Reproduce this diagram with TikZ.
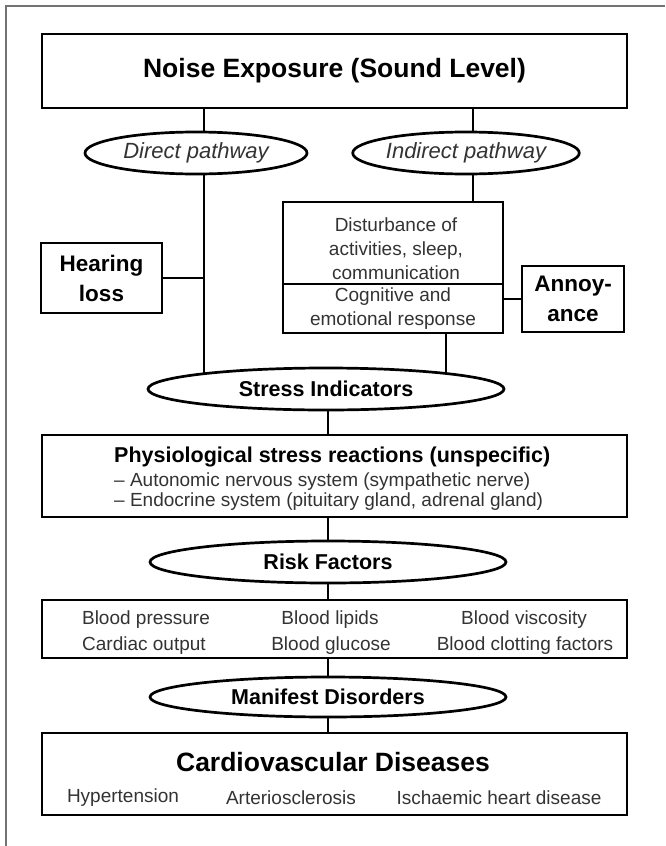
\documentclass[tikz,border=0pt]{standalone}
\usepackage{fontspec}
\setmainfont{Liberation Sans}
\usetikzlibrary{shapes.geometric, backgrounds, calc}
\tikzset{
    %Define style for boxes
    kasten/.style={
           rectangle,
           draw=black, line width=2.7pt,
           fill=white,
           inner sep=0pt},
    %Define style for ellipses
    oval/.style={
           ellipse,
           draw=black, line width=2.7pt,
           fill=white,
           inner sep=0pt,
           minimum height=42pt},
    % Define line style
    pil/.style={
           -,
           line width=2.7pt},
    % Define text styles
    titel/.style={font=\bfseries\fontsize{26.5}{30}\selectfont},
    fett/.style={font=\bfseries\fontsize{21.5}{26}\selectfont},
    seite/.style={font=\bfseries\fontsize{22.5}{30}\selectfont, align=center},
    kursiv/.style={font=\itshape\fontsize{22}{26}\selectfont, text=black!80},
    normal/.style={font=\fontsize{19}{24}\selectfont, text=black!80, inner sep=0pt},
}

\begin{document}
\begin{tikzpicture}[x=1pt, y=-1pt]
	\useasboundingbox (0,0) rectangle (665,846);
	% cadre
	\draw[black!55, line width=1.2pt] (6,846) -- (6,6) -- (665,6);
	%
	% noeuds
	%
	\node[kasten, titel, minimum width=585pt, minimum height=74pt] (noise) at (334.5,71) {Noise Exposure (Sound Level)};
	\node[oval, kursiv, minimum width=222pt] (direct) at (196,153) {Direct pathway};
	\node[oval, kursiv, minimum width=224pt] (indirect) at (466,153) {Indirect pathway};
	\node[kasten, minimum width=220pt, minimum height=82pt] (dist) at (393,243) {};
	\node[normal, align=center] (disttext) at (396,249) {Disturbance of\\activities, sleep,\\communication};
	\node[kasten, normal, align=center, minimum width=220pt, minimum height=49pt] (cog) at (393,308.5) {Cognitive and\\emotional response};
	\node[kasten, seite, minimum width=121pt, minimum height=70pt] (hearing) at (101.5,278) {Hearing\\loss};
	\node[kasten, seite, minimum width=102pt, minimum height=66pt] (annoy) at (573,299) {Annoy-\\ance};
	\node[oval, fett, minimum width=356pt] (stress) at (326,389) {Stress Indicators};
	\node[kasten, minimum width=585pt, minimum height=82pt] (phys) at (334.5,476) {};
	\node[fett, inner sep=0pt, anchor=west] (physhead) at (114,457) {Physiological stress reactions (unspecific)};
	\node[normal, anchor=west] (auto) at (114,482) {– Autonomic nervous system (sympathetic nerve)};
	\node[normal, anchor=west] (endo) at (114,502) {– Endocrine system (pituitary gland, adrenal gland)};
	\node[oval, fett, minimum width=356pt] (risk) at (328,562) {Risk Factors};
	\node[kasten, minimum width=585pt, minimum height=58pt] (blood) at (334.5,629) {};
	\node[normal] (bp) at (146,620) {Blood pressure};
	\node[normal] (cardiac) at (144,646) {Cardiac output};
	\node[normal] (lipids) at (330,620) {Blood lipids};
	\node[normal] (glucose) at (331,646) {Blood glucose};
	\node[normal] (visc) at (524,620) {Blood viscosity};
	\node[normal] (clot) at (525,646) {Blood clotting factors};
	\node[oval, fett, minimum width=356pt, minimum height=40pt] (manif) at (328,697) {Manifest Disorders};
	\node[kasten, minimum width=585pt, minimum height=82pt] (cardio) at (334.5,774) {};
	\node[titel, inner sep=0pt] (cardiohead) at (333,762) {Cardiovascular Diseases};
	\node[normal] (hyper) at (123,798) {Hypertension};
	\node[normal] (arterio) at (291,798) {Arteriosclerosis};
	\node[normal] (isch) at (499,798) {Ischaemic heart disease};
	%
	% Liens
	%
	\coordinate (dline) at (204,0);
	\coordinate (iline) at (473,0);
	\coordinate (cline) at (446,0);
	\coordinate (mid) at (328,0);
	\begin{scope}[on background layer]
	\draw[pil] (noise.south -| dline) -- (stress.center -| dline);
	\draw[pil] (noise.south -| iline) -- (dist.north -| iline);
	\draw[pil] (cog.south -| cline) -- (stress.center -| cline);
	\end{scope}
	\draw[pil] (hearing.east) -- (hearing.east -| dline);
	\draw[pil] (annoy.west) -- (annoy.west -| cog.east);
	\foreach \a/\b in {stress/phys, phys/risk, risk/blood, blood/manif, manif/cardio}
		\draw[pil] (\a.south -| mid) -- (\b.north -| mid);
\end{tikzpicture}
\end{document}
